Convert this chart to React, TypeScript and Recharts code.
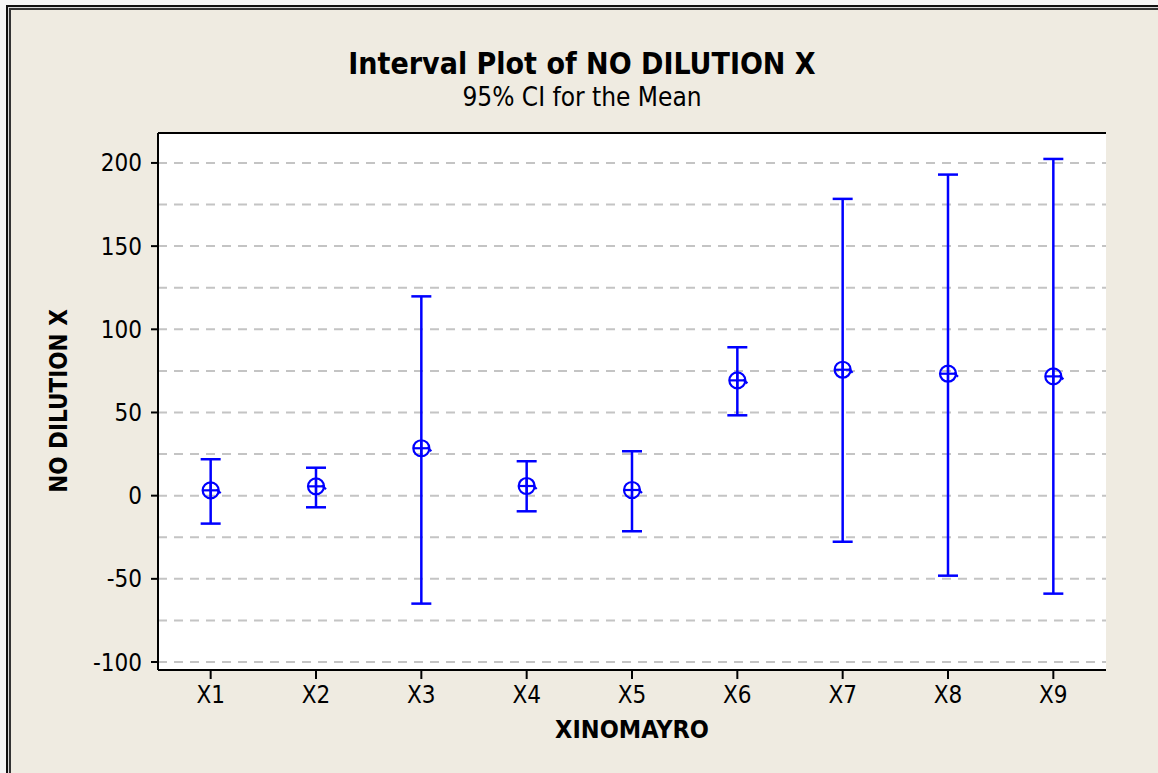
import React from "react";
import {
  ComposedChart,
  Scatter,
  ErrorBar,
  XAxis,
  YAxis,
  CartesianGrid,
  ReferenceLine,
} from "recharts";

const FONT = "Tahoma, 'DejaVu Sans Condensed', 'Liberation Sans', sans-serif";
const BLUE = "#0000ff";

// values
const categories = ["X1", "X2", "X3", "X4", "X5", "X6", "X7", "X8", "X9"];
const means = [3.2, 5.6, 28.5, 5.8, 3.4, 69.3, 75.7, 73.3, 71.7];
const lowers = [-16.8, -7.0, -64.9, -9.4, -21.4, 48.3, -27.7, -48.1, -58.9];
const uppers = [21.9, 16.8, 119.8, 20.7, 26.7, 89.2, 178.4, 193.0, 202.4];

const yTicks = [-100, -50, 0, 50, 100, 150, 200];
const gridValues = [-100, -75, -50, -25, 0, 25, 50, 75, 100, 125, 150, 175, 200];
const yDomain: [number, number] = [-104.8, 218];

const data = categories.map((name, i) => ({
  name,
  mean: means[i],
  ci: [means[i] - lowers[i], uppers[i] - means[i]],
}));

function MeanSymbol(props: any) {
  const { cx, cy } = props;
  if (cx == null || cy == null) return null;
  const r = 8;
  return (
    <g stroke={BLUE} strokeWidth={2.2} fill="none">
      <circle cx={cx} cy={cy} r={r} />
      <line x1={cx - r} y1={cy} x2={cx + r} y2={cy} />
      <line x1={cx} y1={cy - r} x2={cx} y2={cy + r} />
      <line x1={cx + 6} y1={cy - 1} x2={cx + 10} y2={cy + 3} />
    </g>
  );
}

export default function App() {
  return (
    <div
      style={{
        position: "absolute",
        left: 0,
        top: 0,
        width: 1158,
        height: 773,
        background: "#f6f6f6",
        overflow: "hidden",
        fontFamily: FONT,
      }}
    >
      {/* double frame, cut off on the right and bottom */}
      <div
        style={{
          position: "absolute",
          left: 6,
          top: 5,
          right: -10,
          bottom: -10,
          borderLeft: "2px solid #111",
          borderTop: "2px solid #111",
          background: "#d8d8d8",
        }}
      />
      <div
        style={{
          position: "absolute",
          left: 9,
          top: 8,
          right: -10,
          bottom: -10,
          borderLeft: "2px solid #333",
          borderTop: "2px solid #333",
          background: "#efebe1",
        }}
      />

      <div style={{ position: "absolute", left: 0, top: 0 }}>
        <ComposedChart
          width={1158}
          height={773}
          data={data}
          margin={{ top: 133, right: 52, bottom: 53, left: 88 }}
        >
          <CartesianGrid horizontal={false} vertical={false} fill="#ffffff" />
          <XAxis
            dataKey="name"
            type="category"
            scale="band"
            padding={{ left: 0, right: 0 }}
            height={50}
            tickSize={9}
            tickMargin={7}
            tick={{ fill: "#000", fontSize: 24, fontFamily: FONT }}
            tickLine={{ stroke: "#000", strokeWidth: 2 }}
            axisLine={{ stroke: "#000", strokeWidth: 2 }}
            label={{
              value: "XINOMAYRO",
              position: "bottom",
              offset: 0,
              fill: "#000",
              fontSize: 25,
              fontWeight: "bold",
              fontFamily: FONT,
            }}
          />
          <YAxis
            type="number"
            domain={yDomain}
            ticks={yTicks}
            width={70}
            tickSize={7}
            tickMargin={9}
            tick={{ fill: "#000", fontSize: 24, fontFamily: FONT }}
            tickLine={{ stroke: "#000", strokeWidth: 2 }}
            axisLine={{ stroke: "#000", strokeWidth: 2 }}
          />
          <YAxis
            yAxisId="right"
            orientation="right"
            type="number"
            domain={yDomain}
            width={0}
            tick={false}
            tickLine={false}
            axisLine={{ stroke: "#000", strokeWidth: 2 }}
          />
          {gridValues.map((v) => (
            <ReferenceLine
              key={v}
              y={v}
              stroke="#c4c4c4"
              strokeWidth={2}
              strokeDasharray="9 7"
            />
          ))}
          {/* top edge of the data region */}
          <ReferenceLine y={yDomain[1]} stroke="#000" strokeWidth={2} />
          <Scatter
            dataKey="mean"
            shape={<MeanSymbol />}
            isAnimationActive={false}
          >
            <ErrorBar
              dataKey="ci"
              direction="y"
              width={10}
              stroke={BLUE}
              strokeWidth={2.5}
              isAnimationActive={false}
            />
          </Scatter>
        </ComposedChart>
      </div>

      <svg
        width={1158}
        height={773}
        style={{ position: "absolute", left: 0, top: 0, pointerEvents: "none" }}
      >
        <text
          x={582}
          y={74}
          textAnchor="middle"
          fontSize={30}
          fontWeight="bold"
          fontFamily={FONT}
          fill="#000"
        >
          Interval Plot of NO DILUTION X
        </text>
        <text
          x={582}
          y={106}
          textAnchor="middle"
          fontSize={26}
          fontFamily={FONT}
          fill="#000"
        >
          95% CI for the Mean
        </text>
        <text
          x={67}
          y={401}
          transform="rotate(-90 67 401)"
          textAnchor="middle"
          fontSize={24}
          fontWeight="bold"
          fontFamily={FONT}
          fill="#000"
        >
          NO DILUTION X
        </text>
      </svg>
    </div>
  );
}
